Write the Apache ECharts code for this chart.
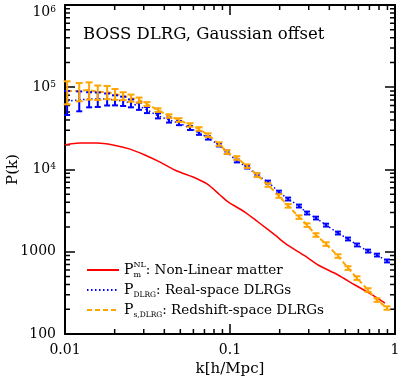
<!DOCTYPE html>
<html>
<head>
<meta charset="utf-8">
<script src="https://cdn.jsdelivr.net/npm/echarts@6/dist/echarts.min.js"></script>
<style>
  html, body { margin: 0; padding: 0; background: #fff; }
  #main { width: 398px; height: 378px; }
</style>
</head>
<body>
<div id="main"></div>
<script>
// k bins of the measured spectra
var kBins = [0.0103, 0.0122, 0.0140, 0.0158, 0.0180, 0.0201, 0.0225, 0.0251, 0.0281, 0.0314,
  0.0366, 0.0427, 0.0491, 0.0572, 0.0649, 0.0736, 0.0858, 0.0959, 0.110, 0.127,
  0.146, 0.170, 0.198, 0.225, 0.262, 0.293, 0.332, 0.382, 0.451, 0.519,
  0.588, 0.686, 0.778, 0.895];
// real-space DLRG
var pReal = [68000, 70000, 72000, 72000, 72000, 70000, 68000, 64000, 59000, 53000,
  45000, 40000, 36700, 32000, 27800, 24200, 19900, 16300, 12700, 10700,
  8570, 7040, 5320, 4380, 3600, 2960, 2570, 2110, 1690, 1430,
  1210, 1020, 912, 773];
var errReal = [22000, 19000, 15000, 14400, 12000, 9800, 8800, 7000, 5900, 4500,
  3200, 2800, 2100, 1800, 1400, 1100, 840, 690, 510, 430,
  340, 280, 210, 175, 145, 120, 100, 85, 68, 57,
  48, 41, 36, 31];
// redshift-space DLRG
var pRsd = [90000, 90000, 92700, 87500, 87500, 82800, 78300, 74000, 70000, 62500,
  52800, 44700, 40000, 34800, 31100, 26200, 20400, 16300, 13800, 11000,
  8570, 6480, 4770, 3620, 2640, 2110, 1600, 1240, 888, 634,
  479, 343, 259, 207];
var errRsd = [28000, 22500, 22000, 17500, 16000, 12500, 8600, 7400, 4900, 3500,
  2600, 2200, 2000, 1700, 1550, 1300, 1000, 820, 690, 550,
  430, 320, 240, 180, 130, 105, 80, 62, 44, 32,
  24, 17, 13, 10];
// non-linear matter
var kNL = [0.0100, 0.0123, 0.0156, 0.0195, 0.0248, 0.0314, 0.0377, 0.0477, 0.0597, 0.0726,
  0.0870, 0.0973, 0.123, 0.148, 0.187, 0.219, 0.285, 0.342, 0.451, 0.572, 0.715, 0.870];
var pNL = [19900, 21000, 21000, 19900, 17700, 14600, 12300, 9590, 8110, 6670,
  4900, 4030, 3040, 2300, 1600, 1240, 888, 690, 522, 394, 306, 238];

var xTickLabels = {0.01: '0.01', 0.1: '0.1', 1: '1'};
var yTickLabels = {100: '100', 1000: '1000', 10000: '{b|10}{e|4}', 100000: '{b|10}{e|5}', 1000000: '{b|10}{e|6}'};

var FONT = 'DejaVu Serif';

function pairs(xs, ys) {
  return xs.map(function (x, i) { return [x, ys[i]]; });
}
function bars(xs, ys, es) {
  return xs.map(function (x, i) { return [x, ys[i] - es[i], ys[i] + es[i]]; });
}

var xMinor = [], yMinor = [];
[0.01, 0.1].forEach(function (d) { for (var m = 2; m <= 9; m++) xMinor.push([d * m, 100]); });
[100, 1000, 10000, 100000].forEach(function (d) { for (var m = 2; m <= 9; m++) yMinor.push([0.01, d * m]); });

function errorBar(color, cap) {
  return function (params, api) {
    var lo = api.coord([api.value(0), api.value(1)]);
    var hi = api.coord([api.value(0), api.value(2)]);
    var st = {stroke: color, lineWidth: 2};
    return {type: 'group', children: [
      {type: 'line', shape: {x1: lo[0], y1: lo[1], x2: hi[0], y2: hi[1]}, style: st},
      {type: 'line', shape: {x1: lo[0] - cap, y1: lo[1], x2: lo[0] + cap, y2: lo[1]}, style: st},
      {type: 'line', shape: {x1: hi[0] - cap, y1: hi[1], x2: hi[0] + cap, y2: hi[1]}, style: st}
    ]};
  };
}

var chart = echarts.init(document.getElementById('main'));

var axisCommon = {
  type: 'log',
  logBase: 10,
  axisLine: {show: true, lineStyle: {color: '#000', width: 2}},
  axisTick: {show: true, inside: true, length: 10, lineStyle: {color: '#000', width: 1.5}},
  splitLine: {show: false},
  minorTick: {show: false}
};

var option = {
  animation: false,
  backgroundColor: '#fff',
  title: {
    text: 'BOSS DLRG, Gaussian offset',
    left: 78, top: 21,
    textStyle: {fontFamily: FONT, fontWeight: 'normal', fontSize: 16.5, color: '#000'}
  },
  grid: {left: 65, right: 3, top: 5, bottom: 44, outerBoundsMode: 'none', containLabel: false},
  legend: {
    orient: 'vertical',
    left: 81, top: 256,
    itemWidth: 32, itemHeight: 14, itemGap: 4,
    itemStyle: {opacity: 0},
    data: ['nl', 'real', 'rsd'],
    formatter: function (name) {
      if (name === 'nl') return '{p|P}{m|m}{sup|NL}{t|: Non-Linear matter}';
      if (name === 'real') return '{p|P}{sub|DLRG}{t|: Real-space DLRGs}';
      return '{p|P}{sub|s,DLRG}{t|: Redshift-space DLRGs}';
    },
    textStyle: {
      fontFamily: FONT, fontSize: 13.5, color: '#000',
      rich: {
        p: {fontFamily: FONT, fontSize: 14, lineHeight: 18, color: '#000'},
        t: {fontFamily: FONT, fontSize: 13.5, lineHeight: 18, color: '#000'},
        sup: {fontFamily: FONT, fontSize: 8, lineHeight: 10, verticalAlign: 'top', color: '#000'},
        m: {fontFamily: FONT, fontSize: 8, lineHeight: 10, verticalAlign: 'bottom', width: 0, color: '#000'},
        sub: {fontFamily: FONT, fontSize: 7.5, lineHeight: 9, verticalAlign: 'bottom', color: '#000'}
      }
    }
  },
  xAxis: [
    Object.assign({}, axisCommon, {
      position: 'bottom', min: 0.01, max: 1,
      name: 'k[h/Mpc]', nameLocation: 'middle', nameGap: 28, nameMoveOverlap: false,
      nameTextStyle: {fontFamily: FONT, fontSize: 15, color: '#000'},
      axisLabel: {
        margin: 9, fontFamily: FONT, fontSize: 14, color: '#000', showMaxLabel: true,
        formatter: function (v) { return xTickLabels[+v.toPrecision(3)] || ''; }
      }
    }),
    Object.assign({}, axisCommon, {position: 'top', min: 0.01, max: 1, axisLabel: {show: false}})
  ],
  yAxis: [
    Object.assign({}, axisCommon, {
      position: 'left', min: 100, max: 1000000,
      name: 'P(k)', nameLocation: 'middle', nameGap: 44, nameRotate: 90, nameMoveOverlap: false,
      nameTextStyle: {fontFamily: FONT, fontSize: 15, color: '#000'},
      axisLabel: {
        margin: 9, fontFamily: FONT, fontSize: 14, color: '#000',
        verticalAlignMaxLabel: 'top',
        formatter: function (v) { return yTickLabels[Math.round(v)] || ''; },
        rich: {
          b: {fontFamily: FONT, fontSize: 14, lineHeight: 14, color: '#000'},
          e: {fontFamily: FONT, fontSize: 9, verticalAlign: 'top', lineHeight: 10, color: '#000'}
        }
      }
    }),
    Object.assign({}, axisCommon, {position: 'right', min: 100, max: 1000000, axisLabel: {show: false}})
  ],
  series: [
    {
      name: 'nl', type: 'line', data: pairs(kNL, pNL), symbol: 'none', smooth: 0.3,
      lineStyle: {color: '#ff0000', width: 1.5}, itemStyle: {color: '#ff0000'}, z: 3
    },
    {
      name: 'real', type: 'line', data: pairs(kBins, pReal), symbol: 'none',
      lineStyle: {color: '#0000ff', width: 1.5, type: [1.5, 2.5]}, itemStyle: {color: '#0000ff'}, z: 3
    },
    {
      name: 'rsd', type: 'line', data: pairs(kBins, pRsd), symbol: 'none',
      lineStyle: {color: '#ffa500', width: 2, type: [5, 3]}, itemStyle: {color: '#ffa500'}, z: 3
    },
    {
      name: 'realErr', type: 'custom', data: bars(kBins, pReal, errReal),
      renderItem: errorBar('#0000ff', 3), encode: {x: 0, y: [1, 2]}, z: 4
    },
    {
      name: 'rsdErr', type: 'custom', data: bars(kBins, pRsd, errRsd),
      renderItem: errorBar('#ffa500', 3.5), encode: {x: 0, y: [1, 2]}, z: 4
    },
    {
      name: 'xMinor', type: 'custom', data: xMinor, silent: true, clip: false,
      renderItem: function (params, api) {
        var b = api.coord([api.value(0), 100]);
        var t = api.coord([api.value(0), 1000000]);
        var st = {stroke: '#000', lineWidth: 1.5};
        return {type: 'group', children: [
          {type: 'line', shape: {x1: b[0], y1: b[1], x2: b[0], y2: b[1] - 5}, style: st},
          {type: 'line', shape: {x1: t[0], y1: t[1], x2: t[0], y2: t[1] + 5}, style: st}
        ]};
      }
    },
    {
      name: 'yMinor', type: 'custom', data: yMinor, silent: true, clip: false,
      renderItem: function (params, api) {
        var l = api.coord([0.01, api.value(1)]);
        var r = api.coord([1, api.value(1)]);
        var st = {stroke: '#000', lineWidth: 1.5};
        return {type: 'group', children: [
          {type: 'line', shape: {x1: l[0], y1: l[1], x2: l[0] + 5, y2: l[1]}, style: st},
          {type: 'line', shape: {x1: r[0], y1: r[1], x2: r[0] - 5, y2: r[1]}, style: st}
        ]};
      }
    }
  ]
};

chart.setOption(option);
</script>
</body>
</html>
